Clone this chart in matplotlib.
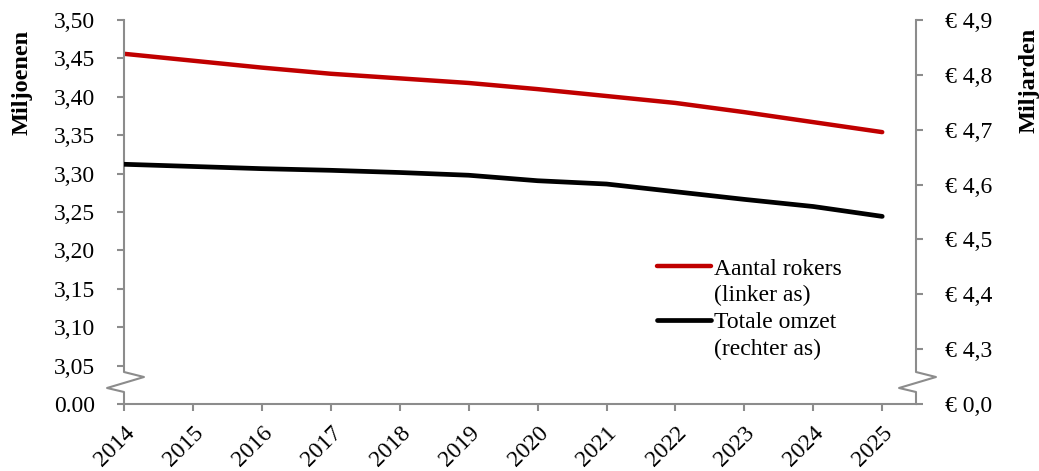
import matplotlib
matplotlib.use('Agg')
import matplotlib.pyplot as plt
from matplotlib.lines import Line2D

plt.rcParams['font.family'] = ['Liberation Serif', 'DejaVu Serif']

# data
years = [2014, 2015, 2016, 2017, 2018, 2019, 2020, 2021, 2022, 2023, 2024, 2025]
rokers = [3.456, 3.447, 3.438, 3.430, 3.424, 3.418, 3.410, 3.401, 3.392, 3.380, 3.367, 3.354]
omzet = [4.637, 4.633, 4.629, 4.626, 4.622, 4.617, 4.607, 4.601, 4.587, 4.573, 4.560, 4.542]

left_ticks = [3.00, 3.05, 3.10, 3.15, 3.20, 3.25, 3.30, 3.35, 3.40, 3.45, 3.50]
left_labels = ['0.00'] + [f'{v:.2f}'.replace('.', ',') for v in left_ticks[1:]]
right_ticks = [4.2, 4.3, 4.4, 4.5, 4.6, 4.7, 4.8, 4.9]
right_labels = ['€ 0,0'] + [f'€ {v:.1f}'.replace('.', ',') for v in right_ticks[1:]]

GREY = '#8c8c8c'
RED = '#C00000'

fig = plt.figure(figsize=(10.39, 4.71), dpi=100)
ax = fig.add_axes([124 / 1039, 1 - 404 / 471, 792 / 1039, 384 / 471])
ax2 = ax.twinx()

l1, = ax.plot(years, rokers, color=RED, lw=3.2, solid_capstyle='round')
l2, = ax2.plot(years, omzet, color='black', lw=3.4, solid_capstyle='round')

ax.set_xlim(2014, 2025.49)
ax.set_ylim(3.0, 3.5)
ax2.set_ylim(4.2, 4.9)

ax.set_xticks(years)
ax.set_xticklabels([str(y) for y in years], rotation=45, ha='right',
                   rotation_mode='anchor', fontsize=17)
ax.set_yticks(left_ticks)
ax.set_yticklabels(left_labels, fontsize=17)
ax2.set_yticks(right_ticks)
ax2.set_yticklabels(right_labels, fontsize=17)

ax.tick_params(axis='x', direction='out', length=5, width=1.5, color=GREY, pad=8)
ax.tick_params(axis='y', direction='out', length=5, width=1.5, color=GREY, pad=16)
ax2.tick_params(axis='y', direction='out', length=5, width=1.5, color=GREY, pad=16)

for a in (ax, ax2):
    for s in ('top', 'left', 'right'):
        a.spines[s].set_visible(False)
ax2.spines['bottom'].set_visible(False)
ax.spines['bottom'].set_color(GREY)
ax.spines['bottom'].set_linewidth(1.5)

# broken y-axes with zigzag
zx = [0, 0, -0.0214, 0.0252, 0, 0]
zy = [0, 0.03125, 0.0417, 0.0703, 0.0833, 1]
ax.add_line(Line2D(zx, zy, transform=ax.transAxes, color=GREY, lw=1.5, clip_on=False))
ax.add_line(Line2D([1 + v for v in zx], zy, transform=ax.transAxes, color=GREY,
                   lw=1.5, clip_on=False))

fig.text(22 / 1039, 1 - 82 / 471, 'Miljoenen', rotation=90, ha='center', va='center',
         fontsize=17.5, fontweight='bold')
fig.text(1029 / 1039, 1 - 80 / 471, 'Miljarden', rotation=90, ha='center', va='center',
         fontsize=17.5, fontweight='bold')

blank = Line2D([], [], color='none')
leg = ax2.legend([l1, blank, l2, blank],
                 ['Aantal rokers', '(linker as)', 'Totale omzet', '(rechter as)'],
                 loc='upper left', bbox_to_anchor=(657 / 1039, 1 - 258 / 471),
                 bbox_transform=fig.transFigure, frameon=False, fontsize=17,
                 handlelength=2.3, handletextpad=0.1, labelspacing=0.22,
                 borderpad=0, borderaxespad=0)

fig.savefig('out.png', dpi=100)
